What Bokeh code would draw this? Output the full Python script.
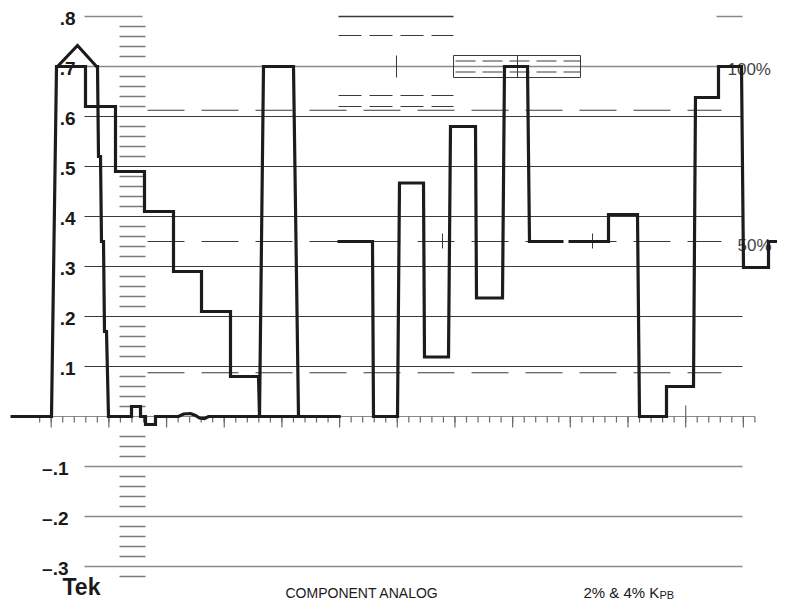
from bokeh.plotting import figure
from bokeh.models import Range1d
from bokeh.core.properties import value
from bokeh.embed import file_html
from bokeh.resources import INLINE

# ---------------- data (x: sweep position, y: volts) ----------------
trace_a_x = [10, 51, 56, 85, 85, 115, 115, 144, 144, 173, 173, 201, 201, 230, 230, 258, 259, 263, 293, 298, 340]
trace_a_y = [0, 0, 0.70, 0.70, 0.62, 0.62, 0.49, 0.49, 0.41, 0.41, 0.29, 0.29, 0.21, 0.21, 0.08, 0.08, 0.0, 0.70, 0.70, 0.0, 0.0]

trace_b_x = [57, 77, 96, 97, 98, 100, 101, 103, 104, 106, 108, 131, 131, 140, 140, 145, 145, 155, 155, 178, 183, 190, 195, 199, 204, 208, 340]
trace_b_y = [0.70, 0.742, 0.70, 0.70, 0.52, 0.52, 0.35, 0.35, 0.17, 0.17, 0.0, 0.0, 0.02, 0.02, 0.0, 0.0, -0.016, -0.016, 0.0, 0.0, 0.005, 0.006, 0.002, -0.003, -0.004, 0.0, 0.0]

trace_c1_x = [337, 372, 373, 397, 399, 423, 424, 448, 450, 475, 476, 502, 504, 527, 529, 563]
trace_c1_y = [0.35, 0.35, 0.0, 0.0, 0.467, 0.467, 0.119, 0.119, 0.58, 0.58, 0.237, 0.237, 0.70, 0.70, 0.35, 0.35]

trace_c2_x = [568, 608, 608, 637, 639, 666, 666, 693, 695, 718, 718, 741, 743, 768, 768, 793]
trace_c2_y = [0.35, 0.35, 0.404, 0.404, 0.0, 0.0, 0.06, 0.06, 0.638, 0.638, 0.70, 0.70, 0.298, 0.298, 0.35, 0.35]

grid_gray_levels = [0.7, -0.1, -0.2, -0.3]
grid_dark_levels = [0.6, 0.5, 0.4, 0.3, 0.2, 0.1]
dashed_levels = [0.6125, 0.35, 0.0875]
short_dashed_levels = [0.762, 0.642, 0.62]
box_levels = [0.722, 0.678]
box_dash_levels = [0.711, 0.689]

pos_labels = [".8", ".7", ".6", ".5", ".4", ".3", ".2", ".1"]
pos_label_vals = [0.8, 0.7, 0.6, 0.5, 0.4, 0.3, 0.2, 0.1]
neg_labels = ["\u2013.1", "\u2013.2", "\u2013.3"]
neg_label_vals = [-0.1, -0.2, -0.3]

minor_y_vals = [round(-0.32 + 0.02 * i, 2) for i in range(56)]
minor_y_vals = [v for v in minor_y_vals if abs(round(v * 10) - v * 10) > 1e-6 and abs(v + 0.02) > 1e-6]

major_x = [50.7 + 57.68 * k for k in range(13)]
minor_x = [50.7 + 11.536 * j for j in range(-1, 62)]

# ---------------- figure ----------------
W, H = 777, 600
p = figure(width=W, height=H, output_backend="svg", toolbar_location=None,
           x_range=Range1d(0, 777), y_range=Range1d(-0.368, 0.832),
           min_border=0, outline_line_color=None)
p.axis.visible = False
p.grid.visible = False
p.background_fill_color = "white"
p.border_fill_color = "white"

GRAY = "#8a8a8a"
DARK = "#3a3a3a"

# horizontal graticule
p.segment(x0=[84] * 4, x1=[742] * 4, y0=grid_gray_levels, y1=grid_gray_levels, line_color=GRAY, line_width=1.6)
p.segment(x0=[84] * 6, x1=[742] * 6, y0=grid_dark_levels, y1=grid_dark_levels, line_color=DARK, line_width=1)
# 0.8 short lines
p.segment(x0=[84, 338, 716], x1=[142, 453, 742], y0=[0.8] * 3, y1=[0.8] * 3,
          line_color=[GRAY, DARK, GRAY], line_width=1.3)
# long dashed lines
for lv in dashed_levels:
    p.line([147, 721], [lv, lv], line_color=DARK, line_width=1, line_dash="37 17")
# short dashed lines at top
for lv in short_dashed_levels:
    p.line([338, 453], [lv, lv], line_color=DARK, line_width=1, line_dash="23 8")
# box
p.segment(x0=[453, 453, 453, 580], x1=[580, 580, 453, 580],
          y0=[box_levels[0], box_levels[1], box_levels[1], box_levels[1]],
          y1=[box_levels[0], box_levels[1], box_levels[0], box_levels[0]],
          line_color=DARK, line_width=1)
for lv in box_dash_levels:
    p.line([455, 580], [lv, lv], line_color=DARK, line_width=1, line_dash="20 7")
# small vertical marks
p.segment(x0=[396, 517, 442, 592], x1=[396, 517, 442, 592],
          y0=[0.722, 0.722, 0.366, 0.366], y1=[0.678, 0.678, 0.336, 0.336],
          line_color=DARK, line_width=1)

# vertical minor tick column
p.segment(x0=[119] * len(minor_y_vals), x1=[145] * len(minor_y_vals),
          y0=minor_y_vals, y1=minor_y_vals, line_color="#7a7a7a", line_width=1.5)

# horizontal axis
p.line([39, 754.5], [0, 0], line_color=GRAY, line_width=1.2)
p.segment(x0=minor_x, x1=minor_x, y0=[0] * len(minor_x), y1=[-0.012] * len(minor_x),
          line_color="#6a6a6a", line_width=1.2)
p.segment(x0=major_x, x1=major_x, y0=[0] * len(major_x), y1=[-0.022] * len(major_x),
          line_color="#6a6a6a", line_width=1.2)
p.segment(x0=[685.2], x1=[685.2], y0=[0.022], y1=[0], line_color="#6a6a6a", line_width=1.2)

# texts
p.text(x=[75] * len(pos_labels), y=pos_label_vals, text=pos_labels, text_align="right",
       text_baseline="middle", text_font=value("Liberation Sans"), text_font_style="bold",
       text_font_size="19px", text_color="#1a1a1a", y_offset=2)
p.text(x=[68] * len(neg_labels), y=neg_label_vals, text=neg_labels, text_align="right",
       text_baseline="middle", text_font=value("Liberation Sans"), text_font_style="bold",
       text_font_size="19px", text_color="#1a1a1a", y_offset=2)
p.text(x=[727], y=[0.694], text=["100%"], text_baseline="middle", text_font=value("Liberation Sans"),
       text_font_size="17px", text_color="#444444")
p.text(x=[737], y=[0.342], text=["50%"], text_baseline="middle", text_font=value("Liberation Sans"),
       text_font_size="17px", text_color="#444444")
p.text(x=[62], y=[-0.340], text=["Tek"], text_baseline="middle", text_font=value("Liberation Sans"),
       text_font_style="bold", text_font_size="23px", text_color="#1a1a1a")
p.text(x=[285], y=[-0.352], text=["COMPONENT ANALOG"], text_baseline="middle",
       text_font=value("Liberation Sans"), text_font_size="14px", text_color="#1a1a1a")
p.text(x=[583], y=[-0.352], text=["2% & 4% K"], text_baseline="middle",
       text_font=value("Liberation Sans"), text_font_size="15px", text_color="#1a1a1a")
p.text(x=[659], y=[-0.356], text=["PB"], text_baseline="middle",
       text_font=value("Liberation Sans"), text_font_size="11px", text_color="#1a1a1a")

# waveform traces
for xs, ys in [(trace_a_x, trace_a_y), (trace_b_x, trace_b_y), (trace_c1_x, trace_c1_y), (trace_c2_x, trace_c2_y)]:
    p.line(xs, ys, line_color="#1c1c1c", line_width=3.2, line_join="miter")

open("out.html", "w").write(file_html(p, INLINE))
